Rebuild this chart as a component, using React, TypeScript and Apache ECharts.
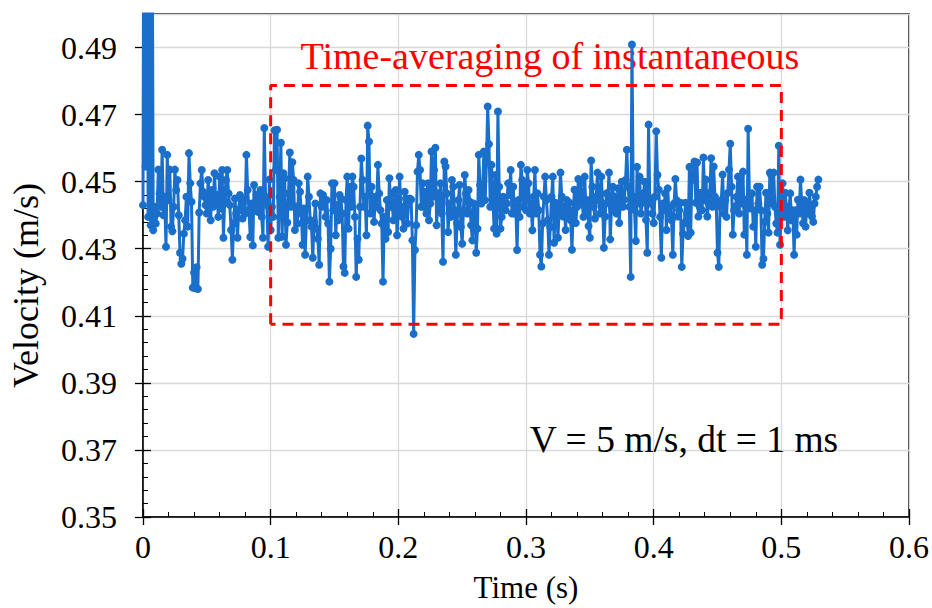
import React, { useEffect, useRef } from "react";
import * as echarts from "echarts";

// Instantaneous velocity (m/s), sampled every DT seconds starting at t = 0
const VELOCITY: number[] = [
  0.443, 0.62, 0.4545, 0.6, 0.4395, 0.58, 0.437, 0.56, 0.4355, 0.4425,
  0.4375, 0.4405, 0.4536, 0.4465, 0.4425, 0.4595, 0.44, 0.4455, 0.4306, 0.458,
  0.4445, 0.4536, 0.4366, 0.4352, 0.4425, 0.4536, 0.4475, 0.4505, 0.44, 0.4288,
  0.4255, 0.427, 0.4345, 0.4385, 0.4455, 0.4366, 0.4585, 0.4495, 0.444, 0.4184,
  0.4229, 0.4182, 0.4245, 0.418, 0.4408, 0.4495, 0.4535, 0.447, 0.4455, 0.443,
  0.4405, 0.4505, 0.445, 0.4385, 0.4475, 0.4425, 0.4525, 0.4445, 0.446, 0.4395,
  0.4515, 0.442, 0.4535, 0.4333, 0.4445, 0.4505, 0.4535, 0.4465, 0.443, 0.4356,
  0.4267, 0.4375, 0.445, 0.4405, 0.4333, 0.4415, 0.446, 0.4425, 0.439, 0.4445,
  0.4405, 0.458, 0.4475, 0.4415, 0.4335, 0.4435, 0.431, 0.449, 0.4425, 0.446,
  0.441, 0.4445, 0.4475, 0.4395, 0.4333, 0.466, 0.4455, 0.443, 0.4306, 0.4506,
  0.4356, 0.4425, 0.4395, 0.4653, 0.4535, 0.4655, 0.4333, 0.4455, 0.4616, 0.4336,
  0.4525, 0.451, 0.4312, 0.4378, 0.4465, 0.4587, 0.4425, 0.4558, 0.4505, 0.4356,
  0.4426, 0.4375, 0.4495, 0.447, 0.4405, 0.4312, 0.442, 0.4282, 0.4385, 0.4515,
  0.4455, 0.4385, 0.4366, 0.4273, 0.438, 0.4435, 0.436, 0.433, 0.4252, 0.4465,
  0.4425, 0.446, 0.4445, 0.4395, 0.4445, 0.4375, 0.4202, 0.43, 0.4495, 0.4415,
  0.4495, 0.434, 0.443, 0.4385, 0.446, 0.445, 0.4405, 0.4247, 0.4228, 0.4445,
  0.4515, 0.436, 0.4485, 0.4425, 0.4515, 0.4485, 0.4395, 0.4216, 0.433, 0.4267,
  0.4425, 0.4569, 0.4505, 0.4425, 0.4455, 0.434, 0.4667, 0.462, 0.4405, 0.4485,
  0.4435, 0.438, 0.4455, 0.4425, 0.455, 0.4465, 0.4415, 0.4375, 0.4202, 0.4395,
  0.433, 0.4445, 0.435, 0.451, 0.4425, 0.4465, 0.4385, 0.442, 0.4475, 0.434,
  0.4405, 0.4515, 0.4425, 0.4395, 0.436, 0.447, 0.445, 0.4375, 0.4435, 0.445,
  0.4447, 0.4325, 0.4046, 0.4296, 0.437, 0.453, 0.458, 0.4535, 0.4425, 0.4495,
  0.4425, 0.447, 0.4405, 0.4495, 0.4385, 0.4435, 0.459, 0.4455, 0.4535, 0.4601,
  0.437, 0.4465, 0.4415, 0.4495, 0.4405, 0.4261, 0.456, 0.4545, 0.4465, 0.435,
  0.4435, 0.4395, 0.4505, 0.4485, 0.4415, 0.4282, 0.4375, 0.4445, 0.449, 0.4365,
  0.4315, 0.4415, 0.452, 0.4465, 0.4405, 0.4475, 0.444, 0.437, 0.4325, 0.4435,
  0.4415, 0.4288, 0.436, 0.458, 0.449, 0.4435, 0.4465, 0.459, 0.4445, 0.4555,
  0.4724, 0.4612, 0.4425, 0.455, 0.4455, 0.436, 0.452, 0.4345, 0.4709, 0.4485,
  0.436, 0.4395, 0.4455, 0.4435, 0.4415, 0.4435, 0.4495, 0.446, 0.4535, 0.4405,
  0.4485, 0.4405, 0.4425, 0.4296, 0.4445, 0.4395, 0.455, 0.4505, 0.4425, 0.4485,
  0.4415, 0.4535, 0.4495, 0.4405, 0.4435, 0.4355, 0.4455, 0.4535, 0.4405, 0.4465,
  0.4415, 0.4282, 0.4247, 0.4375, 0.4455, 0.4515, 0.4445, 0.4385, 0.4282, 0.4365,
  0.4455, 0.4515, 0.4318, 0.4437, 0.4435, 0.4333, 0.4415, 0.4527, 0.4456, 0.4396,
  0.4425, 0.4356, 0.4445, 0.4395, 0.4437, 0.4385, 0.4297, 0.4415, 0.4476, 0.4377,
  0.4425, 0.4508, 0.4435, 0.4497, 0.4437, 0.4395, 0.4515, 0.4408, 0.4445, 0.4368,
  0.4333, 0.4563, 0.4485, 0.4425, 0.439, 0.4455, 0.4527, 0.4446, 0.4405, 0.4515,
  0.4435, 0.4303, 0.4396, 0.4465, 0.4437, 0.4527, 0.4328, 0.4425, 0.4485, 0.4415,
  0.4456, 0.4405, 0.448, 0.4377, 0.4445, 0.45, 0.4425, 0.4446, 0.4505, 0.4595,
  0.4485, 0.4425, 0.4216, 0.4909, 0.4455, 0.4416, 0.4323, 0.4544, 0.4435, 0.4515,
  0.4405, 0.4437, 0.4465, 0.45, 0.4386, 0.4288, 0.467, 0.4435, 0.445, 0.4405,
  0.4377, 0.4455, 0.465, 0.452, 0.4476, 0.4395, 0.4273, 0.4435, 0.4416, 0.4465,
  0.4356, 0.448, 0.4405, 0.4426, 0.4385, 0.4282, 0.4435, 0.4508, 0.4445, 0.4396,
  0.4415, 0.4437, 0.4246, 0.4345, 0.4377, 0.4437, 0.4405, 0.4338, 0.4544, 0.4348,
  0.4524, 0.4506, 0.456, 0.4437, 0.4557, 0.4396, 0.4425, 0.4467, 0.4415, 0.4572,
  0.4445, 0.4506, 0.4396, 0.4435, 0.4467, 0.457, 0.4425, 0.4545, 0.4455, 0.4437,
  0.4288, 0.4246, 0.4426, 0.4445, 0.4521, 0.4405, 0.4445, 0.4395, 0.4466, 0.4536,
  0.4613, 0.4485, 0.4342, 0.4415, 0.4426, 0.4455, 0.4515, 0.4405, 0.4515, 0.4435,
  0.453, 0.4342, 0.4446, 0.4282, 0.4658, 0.4455, 0.442, 0.4465, 0.4366, 0.4415,
  0.4306, 0.4485, 0.4435, 0.4485, 0.4415, 0.4252, 0.427, 0.438, 0.4467, 0.4405,
  0.4348, 0.4527, 0.452, 0.4435, 0.4527, 0.4425, 0.4375, 0.4348, 0.4607, 0.4312,
  0.4435, 0.4495, 0.4395, 0.4467, 0.4425, 0.4355, 0.442, 0.4465, 0.4385, 0.4414,
  0.4282, 0.4415, 0.4342, 0.4446, 0.4405, 0.4506, 0.4435, 0.4376, 0.4445, 0.4366,
  0.4437, 0.4405, 0.4467, 0.4425, 0.4396, 0.438, 0.4435, 0.4455, 0.4485, 0.4506,
];
const DT = 0.001; // s, sampling interval

// Dashed averaging window (time, velocity) corners
const BOX_TIME = [0.1, 0.1, 0.5, 0.5, 0.1];
const BOX_VEL = [0.4075, 0.4787, 0.4787, 0.4075, 0.4075];

const TITLE_TEXT = "Time-averaging of instantaneous";
const NOTE_TEXT = "V = 5 m/s, dt = 1 ms";
const X_NAME = "Time (s)";
const Y_NAME = "Velocity (m/s)";

const FONT = "Liberation Serif";

export default function App() {
  const ref = useRef<HTMLDivElement>(null);
  useEffect(() => {
    if (!ref.current) return;
    const chart = echarts.init(ref.current, null, { renderer: "svg" });
    const series = VELOCITY.map((v, i) => [i * DT, v]);
    const box = BOX_TIME.map((t, i) => [t, BOX_VEL[i]]);
    const tickStyle = { color: "#000", width: 1.3 };
    chart.setOption({
      animation: false,
      textStyle: { fontFamily: FONT, color: "#000" },
      grid: {
        left: 143, top: 14, width: 768, height: 503,
        show: true, borderColor: "#000", borderWidth: 1.5, backgroundColor: "transparent",
      },
      xAxis: [
        {
          type: "value", min: 0, max: 0.6, interval: 0.1, position: "bottom",
          name: X_NAME, nameLocation: "middle", nameGap: 55,
          nameTextStyle: { fontFamily: FONT, fontSize: 31, color: "#000" },
          axisLine: { onZero: false, lineStyle: { color: "#000", width: 1.5 } },
          axisTick: { show: true, inside: false, length: 8, lineStyle: tickStyle },
          axisLabel: {
            fontFamily: FONT, fontSize: 32, color: "#000", margin: 14,
            formatter: (v: number) => (v === 0 ? "0" : v.toFixed(1)),
          },
          splitLine: { show: true, lineStyle: { color: "#d9d9d9", width: 1.3 } },
        },
        {
          type: "value", min: 0, max: 0.6, interval: 0.1, position: "bottom",
          axisLine: { show: false },
          axisTick: { show: true, inside: true, length: 8, lineStyle: tickStyle },
          minorTick: { show: true, splitNumber: 5, length: 5, lineStyle: { color: "#000", width: 1 } },
          axisLabel: { show: false },
          splitLine: { show: false },
        },
      ],
      yAxis: [
        {
          type: "value", min: 0.35, max: 0.5, interval: 0.02, position: "left",
          name: Y_NAME, nameLocation: "middle", nameGap: 99,
          nameTextStyle: { fontFamily: FONT, fontSize: 36, color: "#000", padding: [0, 40, 0, 0] },
          axisLine: { onZero: false, lineStyle: { color: "#000", width: 1.5 } },
          axisTick: { show: true, inside: false, length: 8, lineStyle: tickStyle },
          axisLabel: {
            fontFamily: FONT, fontSize: 32, color: "#000", margin: 26, showMaxLabel: false,
            formatter: (v: number) => v.toFixed(2),
          },
          splitLine: { show: true, lineStyle: { color: "#d9d9d9", width: 1.3 } },
        },
        {
          type: "value", min: 0.35, max: 0.5, interval: 0.02, position: "left",
          axisLine: { show: false },
          axisTick: { show: true, inside: true, length: 8, lineStyle: tickStyle },
          minorTick: { show: true, splitNumber: 5, length: 5, lineStyle: { color: "#000", width: 1 } },
          axisLabel: { show: false },
          splitLine: { show: false },
        },
      ],
      series: [
        {
          type: "line", xAxisIndex: 0, yAxisIndex: 0, data: series,
          symbol: "circle", symbolSize: 8, showSymbol: true, showAllSymbol: true,
          clip: true, z: 3,
          itemStyle: { color: "#1a6fcb" },
          lineStyle: { color: "#1a6fcb", width: 3 },
          silent: true,
        },
        {
          type: "line", xAxisIndex: 0, yAxisIndex: 0, data: box,
          symbol: "none", showSymbol: false, z: 5, silent: true,
          lineStyle: { color: "#ff0000", width: 3, type: [11, 7] },
        },
      ],
      graphic: [
        {
          type: "text", z: 1,
          style: {
            text: TITLE_TEXT, x: 550, y: 56, textAlign: "center", textVerticalAlign: "middle",
            fill: "#ff0000", fontFamily: FONT, fontSize: 38,
          },
        },
        {
          type: "text", z: 1,
          style: {
            text: NOTE_TEXT, x: 684, y: 439, textAlign: "center", textVerticalAlign: "middle",
            fill: "#000", fontFamily: FONT, fontSize: 37.5,
          },
        },
      ],
    });
    return () => chart.dispose();
  }, []);
  return (
    <div
      ref={ref}
      style={{ position: "fixed", left: 0, top: 0, width: 932, height: 608, background: "#fff" }}
    />
  );
}
